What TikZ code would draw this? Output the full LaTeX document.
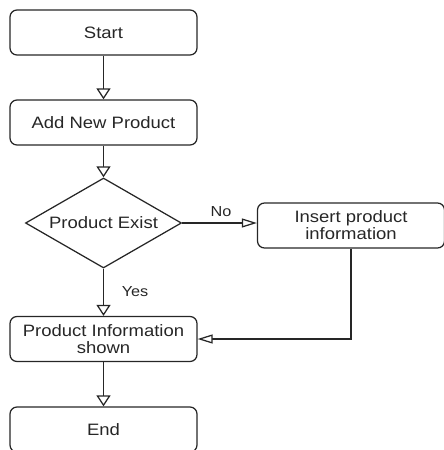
\documentclass[tikz,border=0pt]{standalone}
\usepackage{fontspec}
\setmainfont{Liberation Sans}[FakeStretch=1.12]
\usetikzlibrary{arrows.meta,shapes.geometric}

\tikzset{
  flowline/.style={draw=black!85, line width=1.25pt},
  procbox/.style={flowline, rounded corners=7pt, minimum width=187pt,
    minimum height=45pt, inner sep=0pt, align=center, text=black!85,
    font=\fontsize{16.5pt}{17pt}\selectfont},
  decision/.style={flowline, diamond, aspect=1.73, minimum width=156pt,
    minimum height=90pt, inner sep=0pt, text=black!85,
    font=\fontsize{16.5pt}{17pt}\selectfont},
  edgelabel/.style={text=black!85, inner sep=0pt,
    font=\fontsize{14.5pt}{15pt}\selectfont},
  downarrow/.style={flowline, -{Triangle[length=11pt, width=14pt, fill=white]}},
  sidearrow/.style={flowline, -{Triangle[length=15pt, width=9pt, fill=white]}},
}

\begin{document}
\begin{tikzpicture}[x=1pt, y=-1pt]
  \useasboundingbox (0,0) rectangle (444,450);
  \clip (0,0) rectangle (444,450);

  % process steps and the decision
  \node[procbox]  (start)  at (103.5, 32.5) {Start};
  \node[procbox]  (addnew) at (103.5,122.5) {Add New Product};
  \node[decision] (exist)  at (103.5,223)   {Product Exist};
  \node[procbox]  (insert) at (351,  225.5) {Insert product\\information};
  \node[procbox]  (shown)  at (103.5,339)   {Product Information\\shown};
  \node[procbox]  (finish) at (103.5,429.5) {End};

  % branch labels
  \node[edgelabel] (nolabel)  at (221,212) {No};
  \node[edgelabel] (yeslabel) at (135,292) {Yes};

  % connectors
  \draw[downarrow] (start)  -- (addnew);
  \draw[downarrow] (addnew) -- (exist);
  \draw[sidearrow] (exist.east) -- (insert.west |- exist.east);
  \draw[downarrow] (exist.south) -- (shown.north);
  \draw[sidearrow] (insert.south) |- (shown.east);
  \draw[downarrow] (shown)  -- (finish);
\end{tikzpicture}
\end{document}
